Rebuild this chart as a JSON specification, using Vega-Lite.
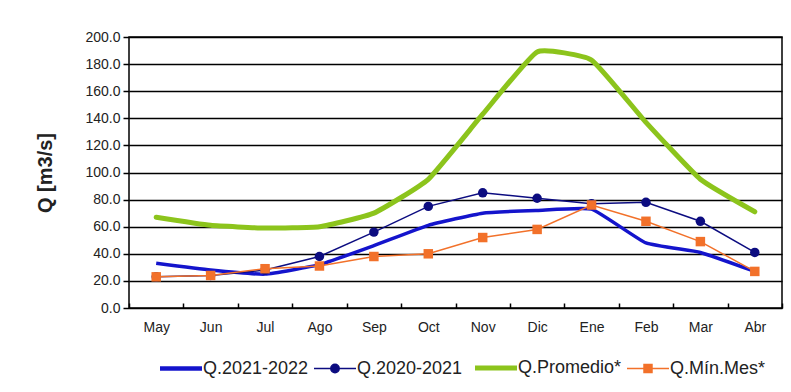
{
  "$schema": "https://vega.github.io/schema/vega-lite/v6.json",
  "width": 653,
  "height": 271,
  "padding": {"left": 35, "top": 30, "right": 5, "bottom": 5},
  "background": "white",
  "config": {
    "font": "Liberation Sans",
    "view": {"stroke": "#000000", "strokeWidth": 1.5}
  },
  "data": {
    "values": [
      {"mes": "May", "serie": "Q.2021-2022", "q": 33},
      {"mes": "Jun", "serie": "Q.2021-2022", "q": 28},
      {"mes": "Jul", "serie": "Q.2021-2022", "q": 25},
      {"mes": "Ago", "serie": "Q.2021-2022", "q": 32},
      {"mes": "Sep", "serie": "Q.2021-2022", "q": 46},
      {"mes": "Oct", "serie": "Q.2021-2022", "q": 61},
      {"mes": "Nov", "serie": "Q.2021-2022", "q": 70},
      {"mes": "Dic", "serie": "Q.2021-2022", "q": 72},
      {"mes": "Ene", "serie": "Q.2021-2022", "q": 73},
      {"mes": "Feb", "serie": "Q.2021-2022", "q": 48},
      {"mes": "Mar", "serie": "Q.2021-2022", "q": 41},
      {"mes": "Abr", "serie": "Q.2021-2022", "q": 27},
      {"mes": "May", "serie": "Q.2020-2021", "q": 23},
      {"mes": "Jun", "serie": "Q.2020-2021", "q": 24},
      {"mes": "Jul", "serie": "Q.2020-2021", "q": 28},
      {"mes": "Ago", "serie": "Q.2020-2021", "q": 38},
      {"mes": "Sep", "serie": "Q.2020-2021", "q": 56},
      {"mes": "Oct", "serie": "Q.2020-2021", "q": 75},
      {"mes": "Nov", "serie": "Q.2020-2021", "q": 85},
      {"mes": "Dic", "serie": "Q.2020-2021", "q": 81},
      {"mes": "Ene", "serie": "Q.2020-2021", "q": 77},
      {"mes": "Feb", "serie": "Q.2020-2021", "q": 78},
      {"mes": "Mar", "serie": "Q.2020-2021", "q": 64},
      {"mes": "Abr", "serie": "Q.2020-2021", "q": 41},
      {"mes": "May", "serie": "Q.Promedio*", "q": 67},
      {"mes": "Jun", "serie": "Q.Promedio*", "q": 61},
      {"mes": "Jul", "serie": "Q.Promedio*", "q": 59},
      {"mes": "Ago", "serie": "Q.Promedio*", "q": 60},
      {"mes": "Sep", "serie": "Q.Promedio*", "q": 70},
      {"mes": "Oct", "serie": "Q.Promedio*", "q": 95},
      {"mes": "Nov", "serie": "Q.Promedio*", "q": 143},
      {"mes": "Dic", "serie": "Q.Promedio*", "q": 189},
      {"mes": "Ene", "serie": "Q.Promedio*", "q": 183},
      {"mes": "Feb", "serie": "Q.Promedio*", "q": 137},
      {"mes": "Mar", "serie": "Q.Promedio*", "q": 95},
      {"mes": "Abr", "serie": "Q.Promedio*", "q": 71},
      {"mes": "May", "serie": "Q.Mín.Mes*", "q": 23},
      {"mes": "Jun", "serie": "Q.Mín.Mes*", "q": 24},
      {"mes": "Jul", "serie": "Q.Mín.Mes*", "q": 29},
      {"mes": "Ago", "serie": "Q.Mín.Mes*", "q": 31},
      {"mes": "Sep", "serie": "Q.Mín.Mes*", "q": 38},
      {"mes": "Oct", "serie": "Q.Mín.Mes*", "q": 40},
      {"mes": "Nov", "serie": "Q.Mín.Mes*", "q": 52},
      {"mes": "Dic", "serie": "Q.Mín.Mes*", "q": 58},
      {"mes": "Ene", "serie": "Q.Mín.Mes*", "q": 76},
      {"mes": "Feb", "serie": "Q.Mín.Mes*", "q": 64},
      {"mes": "Mar", "serie": "Q.Mín.Mes*", "q": 49},
      {"mes": "Abr", "serie": "Q.Mín.Mes*", "q": 27}
    ]
  },
  "encoding": {
    "x": {
      "field": "mes",
      "type": "ordinal",
      "sort": ["May", "Jun", "Jul", "Ago", "Sep", "Oct", "Nov", "Dic", "Ene", "Feb", "Mar", "Abr"],
      "bandPosition": 0.5,
      "scale": {"type": "band", "paddingInner": 0, "paddingOuter": 0},
      "axis": {
        "title": null,
        "labelAngle": 0,
        "labelFontSize": 14,
        "labelColor": "#222222",
        "labelPadding": 17,
        "tickBand": "extent",
        "tickSize": -5,
        "tickColor": "#000000",
        "tickWidth": 1.5,
        "domain": false,
        "grid": false
      }
    },
    "y": {
      "field": "q",
      "type": "quantitative",
      "scale": {"domain": [0, 200], "nice": false},
      "axis": {
        "title": "Q [m3/s]",
        "titleFontSize": 20,
        "titleFontWeight": "bold",
        "titleColor": "#222222",
        "titlePadding": 29,
        "values": [0, 20, 40, 60, 80, 100, 120, 140, 160, 180, 200],
        "format": ".1f",
        "labelFontSize": 14,
        "labelColor": "#222222",
        "labelPadding": 3,
        "tickSize": 6,
        "tickColor": "#000000",
        "tickWidth": 1.5,
        "domain": false,
        "grid": true,
        "gridColor": "#000000",
        "gridWidth": 1.5
      }
    },
    "color": {
      "field": "serie",
      "type": "nominal",
      "scale": {
        "domain": ["Q.2021-2022", "Q.2020-2021", "Q.Promedio*", "Q.Mín.Mes*"],
        "range": ["#1414cc", "#0c0c80", "#8cc41c", "#f2712a"]
      },
      "legend": {
        "orient": "none",
        "legendX": 43,
        "legendY": 322,
        "direction": "horizontal",
        "title": null,
        "labelFontSize": 18,
        "labelColor": "#222222",
        "labelOffset": 13,
        "columnPadding": 2,
        "symbolSize": 1764,
        "encode": {
          "symbols": {
            "update": {
              "shape": {"signal": "datum.value === 'Q.2020-2021' ? 'M-1,0H1M-0.2,0A0.2,0.2,0,1,1,0.2,0A0.2,0.2,0,1,1,-0.2,0Z' : datum.value === 'Q.Mín.Mes*' ? 'M-1,0H1M-0.19,-0.19H0.19V0.19H-0.19Z' : 'M-1,0H1'"},
              "strokeWidth": {"signal": "datum.value === 'Q.2021-2022' ? 4.5 : datum.value === 'Q.Promedio*' ? 5 : 1.5"},
              "fill": {"scale": "color", "field": "value"},
              "fillOpacity": {"value": 1}
            }
          }
        }
      }
    }
  },
  "layer": [
    {
      "transform": [{"filter": "datum.serie === 'Q.Promedio*'"}],
      "mark": {"type": "line", "interpolate": "cardinal", "tension": 0.6, "strokeWidth": 5, "strokeCap": "round"}
    },
    {
      "transform": [{"filter": "datum.serie === 'Q.2021-2022'"}],
      "mark": {"type": "line", "interpolate": "cardinal", "tension": 0.6, "strokeWidth": 3.5}
    },
    {
      "transform": [{"filter": "datum.serie === 'Q.2020-2021'"}],
      "mark": {"type": "line", "strokeWidth": 1.5}
    },
    {
      "transform": [{"filter": "datum.serie === 'Q.2020-2021'"}],
      "mark": {"type": "point", "shape": "circle", "filled": true, "size": 90, "opacity": 1}
    },
    {
      "transform": [{"filter": "datum.serie === 'Q.Mín.Mes*'"}],
      "mark": {"type": "line", "strokeWidth": 1.5}
    },
    {
      "transform": [{"filter": "datum.serie === 'Q.Mín.Mes*'"}],
      "mark": {"type": "point", "shape": "square", "filled": true, "size": 90, "opacity": 1}
    }
  ]
}
